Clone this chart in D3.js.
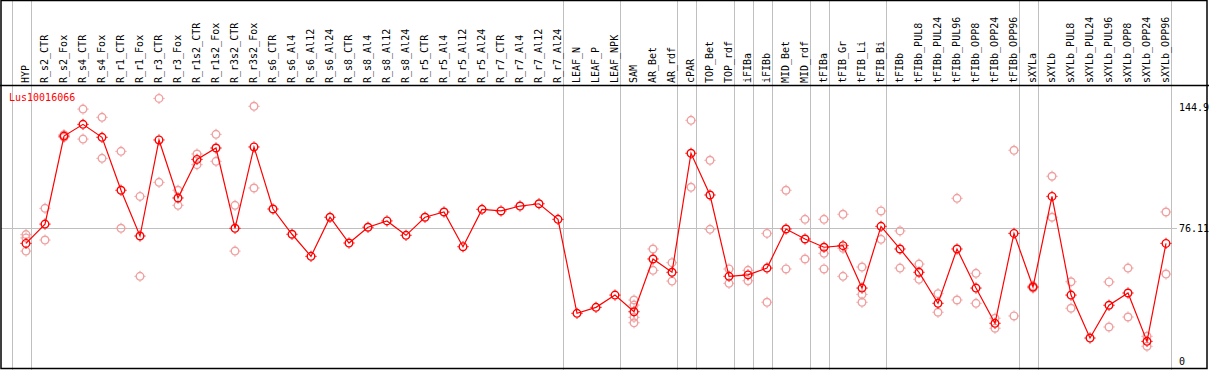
<!DOCTYPE html>
<html><head><meta charset="utf-8">
<script src="https://cdn.jsdelivr.net/npm/d3@7"></script>
<style>html,body{margin:0;padding:0;background:#fff;}svg{display:block;}</style>
</head><body><svg id="c" width="1209" height="370"></svg>
<script>
const categories = ["HYP","R_s2_CTR","R_s2_Fox","R_s4_CTR","R_s4_Fox","R_r1_CTR","R_r1_Fox","R_r3_CTR","R_r3_Fox","R_r1s2_CTR","R_r1s2_Fox","R_r3s2_CTR","R_r3s2_Fox","R_s6_CTR","R_s6_Al4","R_s6_Al12","R_s6_Al24","R_s8_CTR","R_s8_Al4","R_s8_Al12","R_s8_Al24","R_r5_CTR","R_r5_Al4","R_r5_Al12","R_r5_Al24","R_r7_CTR","R_r7_Al4","R_r7_Al12","R_r7_Al24","LEAF_N","LEAF_P","LEAF_NPK","SAM","AR_Bet","AR_rdf","cPAR","TOP_Bet","TOP_rdf","iFIBa","iFIBb","MID_Bet","MID_rdf","tFIBa","tFIB_Gr","tFIB_Li","tFIB_Bi","tFIBb","tFIBb_PUL8","tFIBb_PUL24","tFIBb_PUL96","tFIBb_OPP8","tFIBb_OPP24","tFIBb_OPP96","sXYLa","sXYLb","sXYLb_PUL8","sXYLb_PUL24","sXYLb_PUL96","sXYLb_OPP8","sXYLb_OPP24","sXYLb_OPP96"];
const means = [67.5,78.5,128.7,135.4,128.0,97.8,71.7,126.5,93.4,115.4,121.9,76.1,122.5,87.1,72.7,60.1,82.4,67.7,76.7,80.3,72.1,82.4,85.4,65.6,86.9,86.0,88.8,90.1,81.2,27.6,31.0,38.0,28.5,58.6,51.0,118.9,95.1,48.7,49.5,53.4,75.7,70.0,65.3,66.2,42.0,77.2,64.3,51.0,33.3,64.3,42.0,21.9,73.2,42.6,94.3,38.0,13.5,32.2,39.2,11.6,67.5];
const replicates = [[72.5,70.6,63.1],[87.5,69.4],[129.5,128.0],[144.1,127.0],[139.4,116.0],[120.0,76.1],[94.3,48.7],[150.2,102.3],[97.8,89.2],[118.5,112.4],[129.7,114.3],[89.2,63.1],[145.7,99.1],[],[],[],[],[],[],[],[],[],[],[],[],[],[],[],[],[],[],[],[35.2,32.3,25.3,22.2],[64.3,52.1],[56.5,46.0],[137.7,99.5],[114.9,75.5],[52.9,44.7],[52.1,46.2],[73.2,33.9],[97.8,52.9],[81.2,58.6],[81.2,61.8,52.9],[84.1,64.7,48.7],[54.0,38.4,33.9],[86.0,69.8],[74.6,53.4],[55.7,47.0],[38.8,28.2],[93.2,35.2],[50.4,33.3],[24.8,19.1],[120.6,26.1],[43.2,42.0],[105.8,82.4],[45.6,30.5],[],[45.5,19.8],[53.4,25.5],[14.5,8.8],[85.4,50.0]];
const yTicks = [144.9, 76.11, 0];
const gridValues = [76.11];
const separatorsAfter = ["HYP","R_r7_Al24","LEAF_NPK","AR_rdf","cPAR","TOP_rdf","iFIBa","iFIBb","MID_rdf","tFIBa","tFIB_Bi","tFIBb_OPP96","sXYLa","sXYLb_OPP96"];
const geneName = "Lus10016066";

const W = 1209, H = 370, headerH = 85;
const svg = d3.select("#c");
const font = "'DejaVu Sans Mono', monospace";
const x = d3.scalePoint().domain(categories).range([26, 1166]);
const step = x.step();
const y = d3.scaleLinear().domain([0, 144.9]).range([361.7, 107.7]);

// separators (full height)
const sepX = [x(categories[0]) - step + 4.5].concat(separatorsAfter.map(c => x(c) + 4.5));
svg.append("g").selectAll("line").data(sepX).join("line")
  .attr("x1", d => Math.round(d) + 0.5).attr("x2", d => Math.round(d) + 0.5)
  .attr("y1", 0).attr("y2", H).attr("stroke", "#c0c0c0").attr("stroke-width", 1);

// horizontal gridline
svg.append("g").selectAll("line").data(gridValues).join("line")
  .attr("x1", 1).attr("x2", 1177)
  .attr("y1", d => Math.round(y(d)) + 0.5).attr("y2", d => Math.round(y(d)) + 0.5)
  .attr("stroke", "#c0c0c0").attr("stroke-width", 1);

// frame
svg.append("rect").attr("x", 1).attr("y", 0.5).attr("width", W - 3).attr("height", H - 2)
  .attr("fill", "none").attr("stroke", "#000").attr("stroke-width", 1.5);
svg.append("line").attr("x1", 0).attr("x2", W).attr("y1", headerH + 0.5).attr("y2", headerH + 0.5)
  .attr("stroke", "#000").attr("stroke-width", 1.5);

// category labels
svg.append("g").selectAll("text").data(categories).join("text")
  .attr("transform", d => `translate(${x(d) - 1},${headerH - 2}) rotate(-90)`)
  .attr("dominant-baseline", "central")
  .attr("font-family", font).attr("font-size", 10).attr("fill", "#000")
  .text(d => d);

// y tick labels
svg.append("g").selectAll("text").data(yTicks).join("text")
  .attr("x", 1179).attr("y", d => y(d))
  .attr("dominant-baseline", "central")
  .attr("font-family", font).attr("font-size", 10).attr("fill", "#000")
  .text(d => d);

// gene name
svg.append("text").attr("x", 9).attr("y", 97.5).attr("dominant-baseline", "central")
  .attr("font-family", font).attr("font-size", 10).attr("fill", "#ff0000").text(geneName);

function marker(g, cx, cy, color) {
  const m = g.append("g").attr("transform", `translate(${cx},${cy})`);
  m.append("circle").attr("r", 3.8).attr("fill", "none").attr("stroke", color).attr("stroke-width", 1.4);
  [[0,-4.2,0,-5.6],[0,4.2,0,5.6],[-4.2,0,-5.6,0],[4.2,0,5.6,0]].forEach(s =>
    m.append("line").attr("x1", s[0]).attr("y1", s[1]).attr("x2", s[2]).attr("y2", s[3])
      .attr("stroke", color).attr("stroke-width", 1));
}

// replicates
const repG = svg.append("g");
replicates.forEach((arr, i) => arr.forEach(v => marker(repG, x(categories[i]), y(v), "#f0a0a0")));

// mean line
svg.append("path").datum(means)
  .attr("d", d3.line().x((d, i) => x(categories[i])).y(d => y(d)))
  .attr("fill", "none").attr("stroke", "#ff0000").attr("stroke-width", 1.2);

const meanG = svg.append("g");
means.forEach((v, i) => marker(meanG, x(categories[i]), y(v), "#ff0000"));
</script></body></html>
